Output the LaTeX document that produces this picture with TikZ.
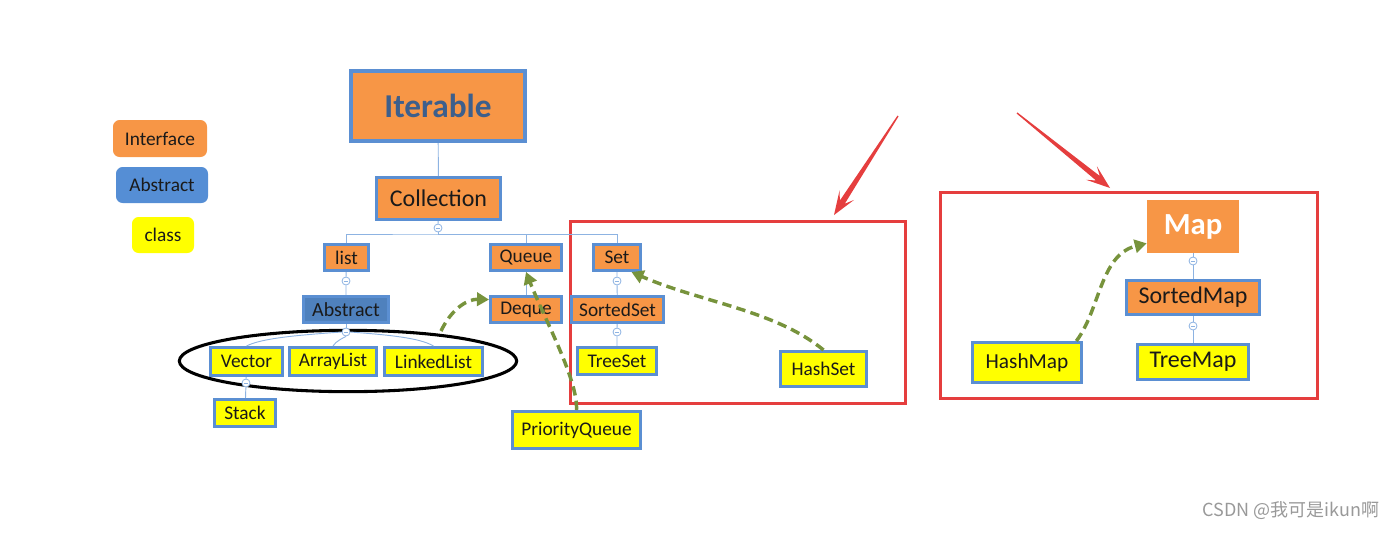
\documentclass[tikz,border=0pt]{standalone}
\usepackage{fontspec}
\setmainfont{Carlito}
\newfontfamily\cjk{Noto Sans CJK SC}
\usetikzlibrary{arrows.meta,shapes.geometric,calc}
\definecolor{ior}{HTML}{F79646}
\definecolor{bblue}{HTML}{5B8FD2}
\definecolor{abblue}{HTML}{4F81BD}
\definecolor{lgblue}{HTML}{558ED5}
\definecolor{cyel}{HTML}{FFFF00}
\definecolor{grn}{HTML}{77933C}
\definecolor{rd}{HTML}{E53E3E}
\definecolor{tl}{HTML}{8DB3E2}
\definecolor{tx}{HTML}{1A1A1A}
\definecolor{itx}{HTML}{3D5F8C}
\newcommand\bx[8]{\node[#6, minimum width={(#4-#2)*0.75pt-#7}, minimum height={(#5-#3)*0.75pt-#7}] (#1) at ({(#2+#4)/2},{(#3+#5)/2}) {#8};}
% tapered red arrow from named coordinate #1 to named coordinate #2
\newcommand\taper[2]{%
  \coordinate (#1s) at ($(#1)!0.87!(#2)$);
  \coordinate (#1h) at ($(#1)!0.80!(#2)$);
  \fill[rd] ($(#1)!0.5pt!90:(#2)$) -- ($(#1s)!2.2pt!90:(#2)$) -- ($(#1h)!6.5pt!90:(#2)$) -- (#2)
    -- ($(#1h)!6.5pt!-90:(#2)$) -- ($(#1s)!2.2pt!-90:(#2)$) -- ($(#1)!0.5pt!-90:(#2)$) -- cycle;}
\tikzset{
  base/.style={inner sep=0pt, text=tx, line width=2.2pt, draw=bblue},
  iface/.style={base, fill=ior},
  abst/.style={base, fill=abblue},
  cls/.style={base, fill=cyel},
  fs/.style={font=\fontsize{#1}{#1}\selectfont},
  lgbox/.style={inner sep=0pt, text=tx, rounded corners=5pt, font=\fontsize{14.5}{15}\selectfont},
  tree/.style={draw=tl, line width=0.7pt},
  collapse/.style={circle, draw=tl, fill=white, line width=0.6pt, minimum size=6pt, inner sep=0pt,
    path picture={\draw[tl, line width=0.5pt] ([xshift=-1.7pt]path picture bounding box.center) -- ([xshift=1.7pt]path picture bounding box.center);}},
  garrow/.style={draw=grn, line width=2.6pt, dash pattern=on 7pt off 4pt, -{Triangle[length=9pt,width=10pt,fill=grn]}},
  redbox/.style={draw=rd, line width=2pt, inner sep=0pt},
}
\begin{document}
\begin{tikzpicture}[x=0.75pt,y=-0.75pt]
\useasboundingbox (0,0) rectangle (1398,532);
% legend
\bx{lgI}{113}{120}{207}{157}{lgbox, fill=ior}{0pt}{Interface}
\bx{lgA}{116}{167}{208}{203}{lgbox, fill=lgblue}{0pt}{Abstract}
\bx{lgC}{132}{217}{194}{253}{lgbox, fill=cyel}{0pt}{class}
% red boxes
\bx{setbox}{569}{220}{907}{405}{redbox}{2pt}{}
\bx{mapbox}{939}{191}{1319}{400}{redbox}{2pt}{}
% main tree
\bx{Iterable}{349}{69}{527}{143}{iface, line width=3pt, text=itx, font=\fontsize{25}{25}\selectfont\bfseries}{3pt}{Iterable}
\bx{Collection}{375}{176}{502}{221}{iface, fs=18}{2.2pt}{Collection}
\bx{list}{323}{243}{370}{272}{iface, fs=14.5}{2.2pt}{list}
\bx{Queue}{489}{243}{563}{272}{iface, fs=14.5}{2.2pt}{Queue}
\bx{Set}{592}{243}{642}{272}{iface, fs=14.5}{2.2pt}{Set}
\bx{Abstract}{302}{295}{390}{324}{abst, fs=15}{2.2pt}{Abstract}
\bx{Deque}{489}{295}{563}{324}{iface, fs=14.5}{2.2pt}{Deque}
\bx{SortedSet}{570}{295}{665}{324}{iface, fs=14.5}{2.2pt}{SortedSet}
\bx{Vector}{209}{346}{284}{377}{cls, fs=14.5}{2.2pt}{Vector}
\bx{ArrayList}{288}{346}{378}{377}{cls, fs=14.5}{2.2pt}{ArrayList}
\bx{LinkedList}{383}{346}{484}{377}{cls, fs=14.5}{2.2pt}{LinkedList}
\bx{TreeSet}{576}{346}{658}{376}{cls, fs=14.5}{2.2pt}{TreeSet}
\bx{HashSet}{779}{350}{868}{388}{cls, fs=14.5}{2.2pt}{HashSet}
\bx{Stack}{213}{398}{277}{428}{cls, fs=14.5}{2.2pt}{Stack}
\bx{PriorityQueue}{511}{410}{642}{450}{cls, fs=14.5}{2.2pt}{PriorityQueue}
% map tree
\bx{Map}{1147}{200}{1239}{253}{inner sep=0pt, fill=ior, text=white, font=\fontsize{23}{23}\selectfont\bfseries}{0pt}{Map}
\bx{SortedMap}{1125}{279}{1261}{316}{iface, fs=18}{2.2pt}{SortedMap}
\bx{TreeMap}{1136}{343}{1250}{381}{cls, fs=18}{2.2pt}{TreeMap}
\bx{HashMap}{971}{341}{1083}{384}{cls, fs=16}{2.2pt}{HashMap}
% ellipse around lists
\node[ellipse, draw=black, line width=2.3pt, minimum width=253pt, minimum height=46pt, inner sep=0pt] (grp) at (348,361) {};
% tree connectors
\node[collapse] (c1) at (438,228) {};
\coordinate (bus) at (438,234);
\draw[tree] (Iterable) -- (Collection);
\draw[tree] (Collection) -- (c1);
\draw[tree] (c1) -- (bus);
\draw[tree] (list.north) |- (bus) -| (Set.north);
\draw[tree] (bus) -| (Queue.north);
\node[collapse] (c2) at (346,281) {};
\draw[tree] (list) -- (c2) -- (Abstract);
\node[collapse] (c3) at (346,332) {};
\draw[tree] (Abstract) -- (c3);
\draw[tree] (c3.west) .. controls (300,335) and (262,338) .. (Vector.north);
\draw[tree] (c3.south) .. controls (343,338) and (336,341) .. (ArrayList.north);
\draw[tree] (c3.east) .. controls (390,335) and (420,338) .. (LinkedList.north);
\node[collapse] (c4) at (246,383) {};
\draw[tree] (Vector) -- (c4) -- (Stack);
\draw[tree] (Queue) -- (Deque);
\node[collapse] (c5) at (617,281) {};
\draw[tree] (Set) -- (c5) -- (SortedSet);
\node[collapse] (c6) at (617,332) {};
\draw[tree] (SortedSet) -- (c6) -- (TreeSet);
\node[collapse] (c7) at (1193,261) {};
\draw[tree] (Map) -- (c7) -- (SortedMap);
\node[collapse] (c8) at (1193,326) {};
\draw[tree] (SortedMap) -- (c8) -- (TreeMap);
% green dashed arrows
\coordinate (s1) at (441,331);
\draw[garrow] (s1) .. controls (452,308) and (468,299) .. (Deque.165);
\draw[garrow] (PriorityQueue.north) .. controls (578,380) and (545,320) .. (Queue.south);
\draw[garrow] (HashSet.north) .. controls (775,310) and (700,302) .. (Set.-45);
\draw[garrow] ([xshift=-5pt]HashMap.north east) .. controls (1100,310) and (1100,255) .. (Map.200);
% red arrows
\coordinate (ra) at (898,116);
\coordinate (rb) at (834,215);
\coordinate (qa) at (1017,113);
\coordinate (qb) at (1110,188);
\taper{ra}{rb}
\taper{qa}{qb}
% watermark
\node[text=black!40, font=\cjk\fontsize{13.5}{13.5}\selectfont, anchor=east] (wm) at (1384,511) {CSDN @我可是ikun啊};
\end{tikzpicture}
\end{document}
